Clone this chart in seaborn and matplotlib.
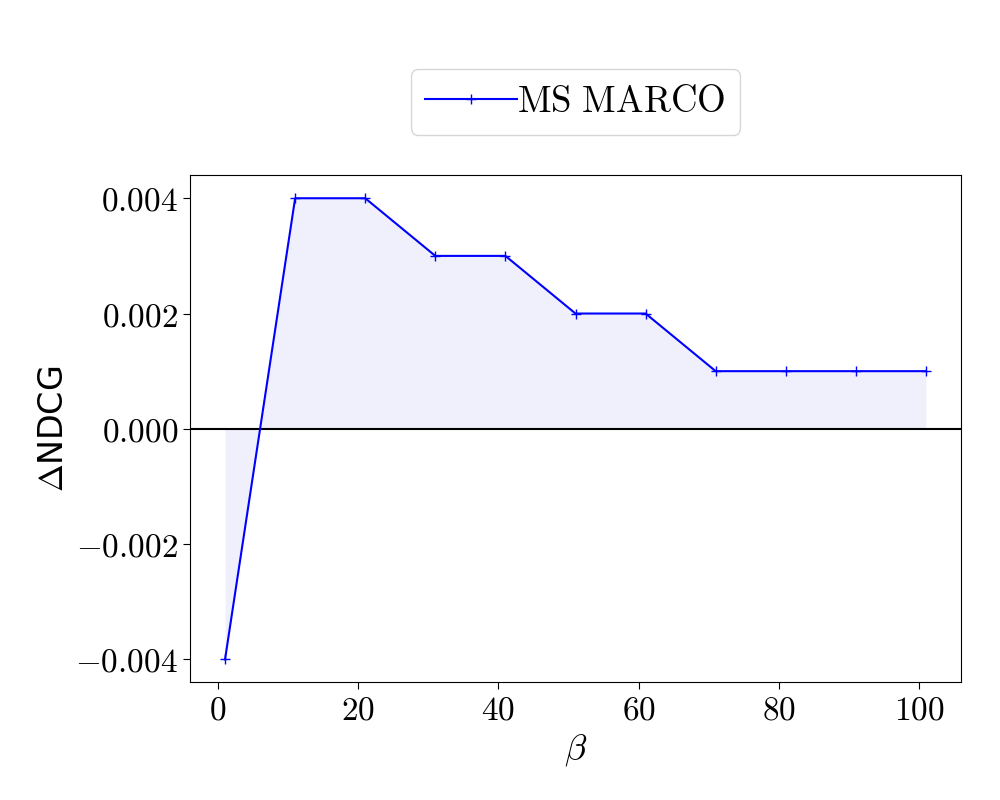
import matplotlib
matplotlib.use("Agg")
import matplotlib.pyplot as plt
import seaborn as sns
import numpy as np
import pandas as pd
from matplotlib.ticker import FuncFormatter

beta = [1, 11, 21, 31, 41, 51, 61, 71, 81, 91, 101]
delta_ndcg = [-0.004, 0.004, 0.004, 0.003, 0.003, 0.002, 0.002, 0.001, 0.001, 0.001, 0.001]
series_name = "MS MARCO"

plt.rcParams['mathtext.fontset'] = 'cm'
plt.rcParams['font.family'] = ['DejaVu Serif']

df = pd.DataFrame({"beta": beta, "delta": delta_ndcg})

fig = plt.figure(figsize=(10, 8), dpi=100)
ax = fig.add_axes([0.19, 0.147, 0.771, 0.634])

ax.fill_between(df["beta"], 0, df["delta"], color="#f0f0fc", linewidth=0, zorder=1)
sns.lineplot(data=df, x="beta", y="delta", ax=ax, color="blue", marker="+",
             markersize=7, markeredgewidth=1.0, markeredgecolor="blue", linewidth=1.5,
             label=r"$\mathrm{MS\ MARCO}$", zorder=3)
ax.axhline(0, color="black", linewidth=1.5, zorder=2)

ax.set_xticks([0, 20, 40, 60, 80, 100])
ax.set_yticks([-0.004, -0.002, 0.0, 0.002, 0.004])
ax.xaxis.set_major_formatter(FuncFormatter(lambda v, p: f"${int(round(v))}$"))
ax.yaxis.set_major_formatter(FuncFormatter(lambda v, p: f"${v:.3f}$"))
ax.tick_params(labelsize=24, length=5)

ax.set_xlabel(r"$\beta$", fontsize=26)
ax.set_ylabel(r"$\Delta$NDCG", fontsize=24, family="DejaVu Sans")

ax.legend(loc="upper center", bbox_to_anchor=(0.5, 1.245), fontsize=26.5,
          handlelength=2.5, handletextpad=0.0, borderpad=0.4)

fig.savefig("out.png", dpi=100)
